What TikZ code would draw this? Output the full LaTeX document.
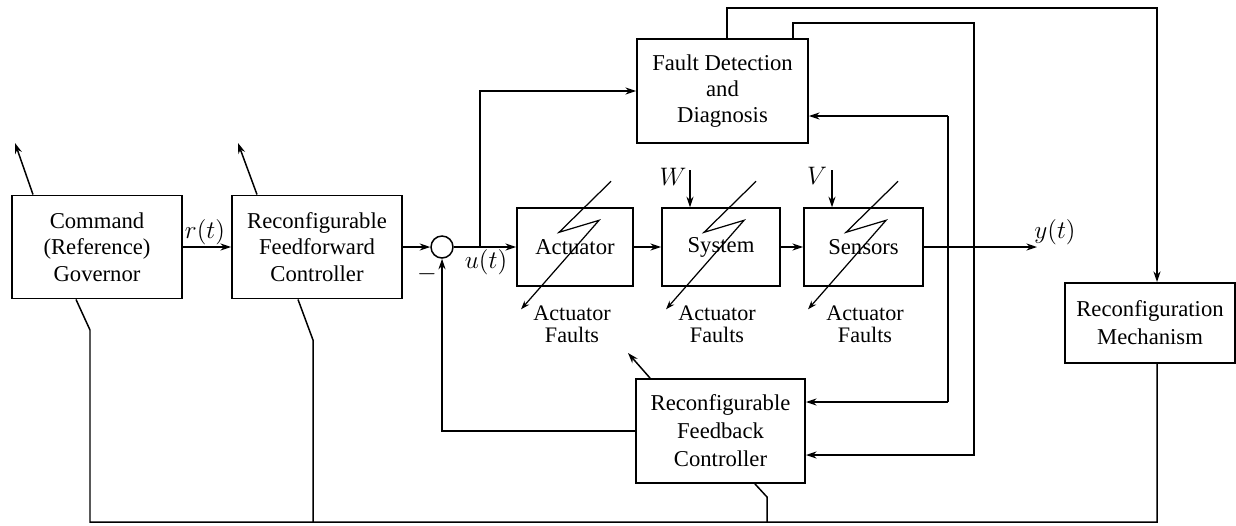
\documentclass[tikz,border=0pt]{standalone}
\usepackage{fontspec}
\setmainfont{Liberation Serif}
\usetikzlibrary{arrows.meta}
\begin{document}
\begin{tikzpicture}[x=0.02cm, y=-0.02cm,
  txt/.style={font=\fontsize{12.9}{15}\selectfont},
  box/.style={draw, line width=1.1pt, align=center, inner sep=0pt, txt},
  conn/.style={line width=0.85pt},
  arr/.style={conn, -{Stealth[length=6pt,width=4pt]}},
  faultbolt/.pic={\draw[line width=0.7pt, -{Stealth[length=5pt,width=3.5pt]}]
      (95,-26) -- (43,25) -- (83,13) -- (5,102);},
  lbl/.style={inner sep=0pt, font=\fontsize{12.6}{12.5}\selectfont, align=center},
  sig/.style={inner sep=0pt, font=\fontsize{14}{16}\selectfont}]
\useasboundingbox (0,0) rectangle (1236,525);

% blocks
\node[box, minimum width=3.4cm, minimum height=2.06cm] (gov) at (97,247) {Command\\(Reference)\\Governor};
\node[box, minimum width=3.4cm, minimum height=2.06cm] (ff) at (317,247) {Reconfigurable\\Feedforward\\Controller};
\node[circle, draw, conn, minimum size=0.44cm, inner sep=0pt] (sum) at (442,247) {};
\node[box, minimum width=2.32cm, minimum height=1.55cm] (act) at (575,247) {Actuator};
\node[box, minimum width=2.36cm, minimum height=1.55cm] (sys) at (721,247) {System};
\node[box, minimum width=2.38cm, minimum height=1.55cm] (sen) at (863.5,247) {Sensors};
\node[box, minimum width=3.42cm, minimum height=2.08cm] (fdd) at (722.5,91) {Fault Detection\\and\\Diagnosis};
\node[box, minimum width=3.38cm, minimum height=2.08cm, font=\fontsize{12.9}{16}\selectfont] (fb) at (720.5,431) {Reconfigurable\\Feedback\\Controller};
\node[box, minimum width=3.4cm, minimum height=1.6cm, font=\fontsize{12.9}{16}\selectfont] (rm) at (1150,323) {Reconfiguration\\Mechanism};

% signal labels
\node[sig] (rt) at (205,232) {$r(t)$};
\node[sig] (ut) at (486,262) {$u(t)$};
\node[sig] (minus) at (427,274) {$-$};
\node[sig] (yt) at (1055,232) {$y(t)$};
\node[sig] (wl) at (673,177) {$W$};
\node[sig] (vl) at (817,176) {$V$};

% fault labels and fault arrows
\node[lbl] (fa1) at (572,324) {Actuator\\Faults};
\node[lbl] (fa2) at (717,324) {Actuator\\Faults};
\node[lbl] (fa3) at (865,324) {Actuator\\Faults};
\pic at (act.north west) {faultbolt};
\pic at (sys.north west) {faultbolt};
\pic at (sen.north west) {faultbolt};

% forward path
\draw[arr] (gov.east) -- (ff.west);
\draw[arr] (ff.east) -- (sum.west);
\draw[arr] (sum.east) -- (act.west);
\draw[arr] (act.east) -- (sys.west);
\draw[arr] (sys.east) -- (sen.west);
\coordinate (yend) at (1037,247);
\draw[arr] (sen.east) -- (yend);

% control signal to fault detection
\coordinate (br) at (480,247);
\draw[arr] (br) |- (fdd.west);

% disturbances
\coordinate (w0) at (690,170);
\coordinate (v0) at (832,170);
\draw[arr] (w0) -- (sys.north -| w0);
\draw[arr] (v0) -- (sen.north -| v0);

% measured output to diagnosis and feedback controller
\coordinate (a1) at (948,116);
\coordinate (a2) at (948,402);
\draw[arr] (a1) -- (a1 -| fdd.east);
\draw[conn] (a1) -- (a2);
\draw[arr] (a2) -- (a2 -| fb.east);

% diagnosis to feedback controller
\coordinate (b0) at (793,0);
\coordinate (b1) at (974,23);
\coordinate (b2) at (974,455);
\draw[arr] (fdd.north -| b0) |- (b1) -- (b2) -- (b2 -| fb.east);

% diagnosis to reconfiguration mechanism
\coordinate (c0) at (727,0);
\coordinate (c1) at (1157,8);
\draw[arr] (fdd.north -| c0) |- (c1) -- (rm.north -| c1);

% feedback path
\draw[arr] (fb.west) -| (sum.south);

% reconfiguration bus
\coordinate (d1) at (1157,522);
\coordinate (d2) at (90,522);
\coordinate (g1) at (90,330);
\coordinate (g2) at (76,0);
\coordinate (f1) at (313,340);
\coordinate (f2) at (298,0);
\coordinate (h1) at (767,497);
\coordinate (h2) at (755,0);
\draw[conn] (rm.south -| d1) -- (d1) -- (d2) -- (g1) -- (gov.south -| g2);
\draw[conn] (d2 -| f1) -- (f1) -- (ff.south -| f2);
\draw[conn] (d2 -| h1) -- (h1) -- (fb.south -| h2);

% adjustment arrows leaving the reconfigurable blocks
\coordinate (g3) at (33,0);
\coordinate (g4) at (15,143);
\coordinate (f3) at (257,0);
\coordinate (f4) at (238,143);
\coordinate (h3) at (650,0);
\coordinate (h4) at (628,353);
\draw[arr] (gov.north -| g3) -- (g4);
\draw[arr] (ff.north -| f3) -- (f4);
\draw[arr] (fb.north -| h3) -- (h4);
\end{tikzpicture}
\end{document}
